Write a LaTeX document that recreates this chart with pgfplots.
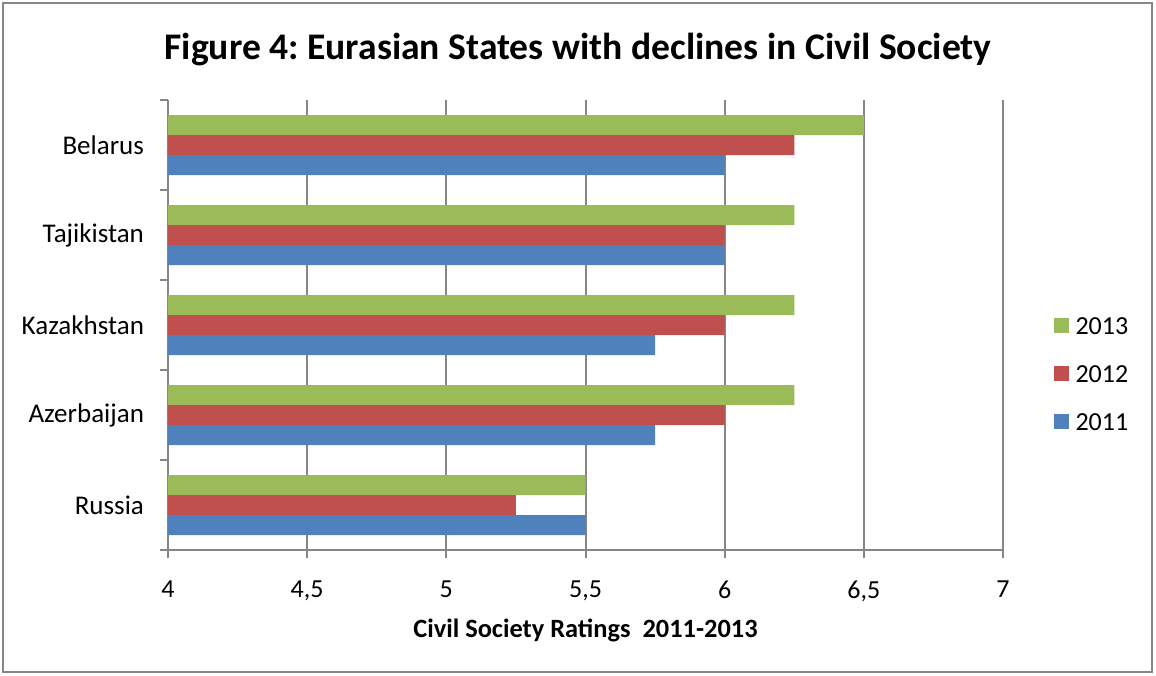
\documentclass[border=0pt]{standalone}
\usepackage{fontspec}
\setmainfont{Carlito}
\usepackage{pgfplots}
\pgfplotsset{compat=1.18}
\definecolor{cgreen}{HTML}{9BBB59}
\definecolor{cred}{HTML}{C0504D}
\definecolor{cblue}{HTML}{4F81BD}
\definecolor{axgray}{HTML}{868686}
\begin{document}
\frenchspacing
\begin{tikzpicture}
\useasboundingbox (-84pt,-62.5pt) rectangle (494pt,275pt);
\draw[draw=axgray, line width=1pt] (-82.5pt,-61pt) rectangle (492pt,273.5pt);
\node[font=\fontsize{18.8}{22}\selectfont\bfseries, anchor=center] at (205pt,250.5pt) {Figure 4: Eurasian States with declines in Civil Society};
\begin{axis}[
  at={(0,0)}, anchor=south west,
  scale only axis, width=417.5pt, height=225pt,
  xbar, bar width=10pt,
  xmin=4, xmax=7, ymin=-0.5, ymax=4.5,
  axis x line*=bottom, axis y line*=left,
  axis line style={draw=axgray, line width=1pt, -},
  xtick={4,4.5,5,5.5,6,6.5,7},
  xmajorgrids, grid style={draw=axgray, line width=1pt},
  ytick={0,1,2,3,4},
  yticklabels={Russia,Azerbaijan,Kazakhstan,Tajikistan,Belarus},
  minor ytick={-0.5,0.5,1.5,2.5,3.5,4.5},
  major y tick style={draw=none},
  minor y tick style={draw=axgray, line width=1pt},
  major x tick style={draw=axgray, line width=1pt},
  tick align=outside, major tick length=4pt, minor tick length=4pt,
  tick label style={font=\fontsize{13}{15}\selectfont},
  /pgf/number format/.cd, use comma, assume math mode=true,
  /pgfplots/.cd,
  xticklabel style={yshift=-8pt},
  yticklabel style={xshift=-4.5pt, font=\fontsize{13.5}{15}\selectfont},
  xlabel={Civil Society Ratings\ \ 2011-2013},
  xlabel style={font=\fontsize{13.2}{15}\selectfont\bfseries, at={(axis description cs:0.5,-0.178)}, anchor=center},
  legend style={draw=none, fill=none, at={(1.06,0.393)}, anchor=west, inner sep=0pt,
    font=\fontsize{13}{15}\selectfont, row sep=15pt,
    nodes={inner sep=0pt, text height=9pt, text depth=0pt},
    /tikz/every odd column/.append style={column sep=3.5pt}},
  legend cell align=left,
  legend image code/.code={\fill[#1] (0pt,-3.75pt) rectangle (7.5pt,3.75pt);},
]
\addplot[xbar, bar shift=10pt, fill=cgreen, draw=none] coordinates {(5.5,0) (6.25,1) (6.25,2) (6.25,3) (6.5,4)};
\addplot[xbar, bar shift=0pt, fill=cred, draw=none] coordinates {(5.25,0) (6,1) (6,2) (6,3) (6.25,4)};
\addplot[xbar, bar shift=-10pt, fill=cblue, draw=none] coordinates {(5.5,0) (5.75,1) (5.75,2) (6,3) (6,4)};
\legend{2013,2012,2011}
\end{axis}
\end{tikzpicture}
\end{document}
